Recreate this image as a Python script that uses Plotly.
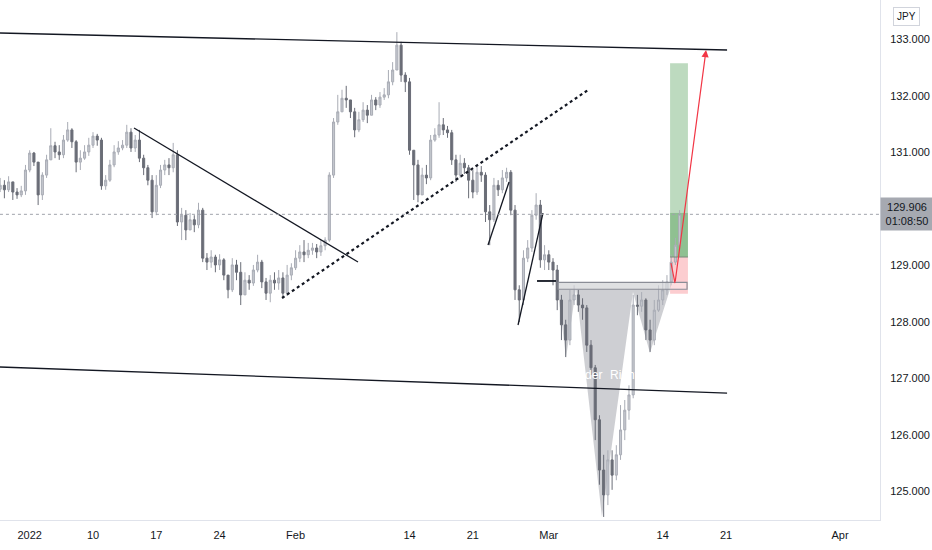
import plotly.graph_objects as go

# ---- data (USD/JPY style, 8h bars, x = trading-day index from 3 Jan 2022) ----
close = [130.42,130.34,130.48,130.30,130.25,130.32,130.69,130.99,130.83,130.25,
         130.60,130.87,131.12,131.01,130.96,131.22,131.40,131.19,130.83,130.90,
         131.01,131.13,131.29,131.22,130.41,130.51,130.78,131.01,131.08,131.13,
         131.36,131.08,131.22,130.90,130.73,130.51,129.95,130.42,130.69,130.78,
         130.73,130.96,129.77,129.89,129.63,129.81,129.72,129.98,129.13,129.06,
         129.15,129.01,129.10,128.83,128.57,129.01,128.88,128.48,128.74,128.69,
         128.92,129.06,128.71,128.51,128.74,128.69,128.78,128.51,128.83,128.96,
         129.13,129.24,129.19,129.27,129.31,129.24,129.35,129.45,130.60,131.54,
         131.72,131.96,131.93,131.72,131.40,131.58,131.75,131.66,131.93,131.84,
         131.98,132.02,132.25,132.46,132.90,132.37,132.25,131.04,130.78,130.25,
         130.60,130.55,131.22,131.31,131.49,131.40,131.35,130.87,130.60,130.81,
         130.73,130.51,130.30,130.65,130.60,129.95,129.81,130.42,130.34,130.55,
         130.65,129.98,128.57,128.39,129.13,129.31,129.89,130.07,129.10,129.19,
         129.06,128.92,128.39,127.95,127.68,128.39,128.48,128.30,128.25,127.59,
         127.19,126.27,125.38,124.94,125.56,125.29,125.65,126.09,126.44,126.71,
         128.30,128.28,128.39,127.86,127.68,128.21,128.39,128.57,128.71,129.06,
         129.36,129.906]
high = [130.55,130.51,130.58,130.44,130.37,130.41,130.78,131.04,131.01,130.83,
        130.65,130.96,131.43,131.19,131.13,131.31,131.54,131.43,131.22,131.04,
        131.13,131.26,131.36,131.33,131.26,130.60,130.87,131.13,131.20,131.22,
        131.49,131.43,131.31,131.40,130.96,130.78,130.60,130.60,130.78,130.87,
        130.90,131.17,131.04,130.02,129.98,129.93,129.89,130.11,130.02,129.22,
        129.27,129.19,129.20,129.13,128.83,129.13,129.10,129.06,128.88,128.83,
        129.01,129.19,129.10,128.78,128.83,128.88,128.92,128.88,129.01,129.04,
        129.27,129.36,129.45,129.40,129.40,129.38,129.45,129.50,130.65,131.61,
        132.02,132.11,132.18,131.93,131.79,131.72,131.89,131.84,132.02,131.98,
        132.07,132.14,132.46,132.60,133.13,132.96,132.42,132.32,131.04,130.87,
        130.73,130.78,131.31,131.43,131.89,131.61,131.47,131.40,130.96,130.96,
        130.90,130.78,130.69,130.78,130.76,130.65,130.07,130.55,130.51,130.69,
        130.73,130.69,130.07,128.65,129.27,129.45,129.98,130.28,130.16,129.36,
        129.27,129.13,129.01,128.48,128.04,128.57,128.65,128.57,128.42,128.30,
        127.68,127.24,126.35,125.65,125.73,125.73,125.82,126.53,126.62,126.88,
        128.48,128.48,128.53,128.42,128.04,128.39,128.65,128.74,128.83,129.19,
        129.49,129.98]
low = [130.30,130.19,130.30,130.16,130.18,130.21,130.25,130.65,130.76,130.07,
       130.16,130.55,130.87,130.90,130.87,130.90,131.19,131.08,130.65,130.69,
       130.87,130.94,131.08,131.12,130.34,130.34,130.48,130.74,130.96,131.04,
       131.08,131.01,131.01,130.83,130.60,130.42,129.84,129.89,130.37,130.60,
       130.60,130.65,129.70,129.45,129.45,129.66,129.59,129.66,129.06,128.92,
       128.96,128.88,128.92,128.74,128.42,128.53,128.74,128.30,128.53,128.57,
       128.64,128.88,128.60,128.39,128.35,128.57,128.57,128.42,128.46,128.74,
       128.92,129.06,129.06,129.13,129.19,129.13,129.17,129.27,129.42,130.55,
       131.49,131.72,131.79,131.61,131.27,131.36,131.54,131.52,131.72,131.75,
       131.79,131.93,131.96,132.19,132.50,132.25,132.07,130.96,130.16,130.12,
       130.37,130.44,130.51,131.19,131.26,131.31,131.26,130.78,130.48,130.55,
       130.62,130.19,130.19,130.25,130.48,129.77,129.36,129.77,130.23,130.28,
       130.48,129.89,128.39,128.00,128.30,129.06,129.24,129.81,128.96,128.92,
       128.92,128.65,128.21,127.68,127.38,127.59,128.30,128.18,128.04,127.47,
       127.06,125.91,125.12,124.55,124.76,125.03,125.20,125.56,125.91,126.27,
       126.65,128.12,128.18,127.68,127.47,127.59,128.18,128.30,128.48,128.65,
       129.01,129.27]
first_open = 130.35
last_price = 129.906
tick_days = [0, 5, 10, 15, 21, 30, 35, 41, 50, 55, 64]
tick_text = ["2022", "10", "17", "24", "Feb", "14", "21", "Mar", "14", "21", "Apr"]
price_ticks = [125, 126, 127, 128, 129, 130, 131, 132, 133]

n = len(close)
t = [-7/3 + i/3 for i in range(n)]
opn = [first_open] + close[:-1]
hi = [max(h, o, c) for h, o, c in zip(high, opn, close)]
lo = [min(l, o, c) for l, o, c in zip(low, opn, close)]

fig = go.Figure()
fig.add_trace(go.Candlestick(
    x=t, open=opn, high=hi, low=lo, close=close,
    increasing=dict(line=dict(color="#a9acb5", width=1), fillcolor="#c4c7ce"),
    decreasing=dict(line=dict(color="#6a6d77", width=1), fillcolor="#6a6d77"),
    whiskerwidth=0, hoverinfo="skip", showlegend=False))

shapes = []
def line(x0, y0, x1, y1, color="#131722", width=1.3, dash="solid", layer="above"):
    shapes.append(dict(type="line", xref="x", yref="y", x0=x0, y0=y0, x1=x1, y1=y1,
                       line=dict(color=color, width=width, dash=dash), layer=layer))

# head & shoulders shaded polygon (below candles)
hs = [(41.65,128.69),(42.36,127.36),(43.15,128.60),(45.20,124.55),(47.65,128.53),
      (48.99,127.45),(50.73,128.69)]
path = "M " + " L ".join(f"{a},{b}" for a, b in hs) + " Z"
shapes.append(dict(type="path", xref="x", yref="y", path=path,
                   fillcolor="rgba(120,123,134,0.36)", line=dict(width=0), layer="below"))
# neckline rectangle
shapes.append(dict(type="rect", xref="x", yref="y", x0=41.73, x1=51.92, y0=128.58, y1=128.70,
                   fillcolor="rgba(255,255,255,0.35)", line=dict(color="#8a8d96", width=1.2),
                   layer="above"))
# long position tool
shapes.append(dict(type="rect", xref="x", yref="y", x0=50.58, x1=51.99, y0=129.15, y1=132.58,
                   fillcolor="rgba(56,142,60,0.33)", line=dict(width=0), layer="below"))
shapes.append(dict(type="rect", xref="x", yref="y", x0=50.58, x1=51.99, y0=129.15, y1=129.93,
                   fillcolor="rgba(56,142,60,0.35)", line=dict(width=0), layer="below"))
shapes.append(dict(type="rect", xref="x", yref="y", x0=50.58, x1=51.99, y0=128.50, y1=129.15,
                   fillcolor="rgba(242,54,69,0.25)", line=dict(width=0), layer="below"))
line(50.58, 129.15, 51.99, 129.15, color="#7a8a7a", width=1)

# channel lines
line(-2.35, 133.115, 55.08, 132.814)
line(-2.35, 127.204, 55.08, 126.743)
# falling trend line
line(8.24, 131.434, 25.93, 129.062)
# dotted rising line
line(19.93, 128.425, 44.10, 132.106, width=2.2, dash="dot")
# small legs
line(36.20, 129.363, 37.86, 130.478)
line(38.57, 127.947, 40.54, 129.929)
line(40.07, 128.726, 41.57, 128.726, width=1.8)
# red projection leg
line(50.65, 129.044, 50.97, 128.690, color="#f23645", width=1.2)
# last price dotted line
line(-2.35, last_price, 67.2, last_price, color="#a0a3ab", width=1, dash="dot")

annotations = [
    dict(x=53.42, y=132.814, ax=50.97, ay=128.690, xref="x", yref="y", axref="x", ayref="y",
         showarrow=True, arrowhead=2, arrowsize=1.2, arrowwidth=1.2, arrowcolor="#f23645", text=""),
    dict(x=42.36, y=127.06, xref="x", yref="y", text="Left Shoulder", showarrow=False,
         font=dict(color="white", size=12, family="Liberation Sans")),
    dict(x=48.99, y=127.06, xref="x", yref="y", text="Right Shoulder", showarrow=False,
         font=dict(color="white", size=12, family="Liberation Sans")),
    dict(x=906 / 880, y=1 - 16 / 520, xref="paper", yref="paper", text="JPY", showarrow=False,
         xanchor="center", yanchor="middle",
         font=dict(color="#131722", size=10, family="Liberation Sans"),
         bordercolor="#d1d4dc", borderwidth=1, borderpad=3, bgcolor="white"),
    dict(x=907 / 880, y=last_price, xref="paper", yref="y", text="129.906<br>01:08:50",
         showarrow=False, xanchor="center", yanchor="middle",
         font=dict(color="#131722", size=11, family="Liberation Sans"),
         bgcolor="#a6a9b1", borderpad=3, width=46, align="center"),
]

fig.update_layout(
    width=932, height=550, margin=dict(l=0, r=52, t=0, b=30),
    paper_bgcolor="white", plot_bgcolor="white",
    shapes=shapes, annotations=annotations, showlegend=False,
    font=dict(family="Liberation Sans", size=11, color="#131722"),
    xaxis=dict(range=[-2.346, 67.16], tickvals=tick_days, ticktext=tick_text,
               showgrid=False, zeroline=False, showline=True, linecolor="#e0e3eb",
               ticks="", ticklabelstandoff=5, rangeslider=dict(visible=False), fixedrange=True,
               tickfont=dict(size=11, color="#131722")),
    yaxis=dict(range=[124.496, 133.699], side="right", tickvals=price_ticks,
               tickformat=".3f", showgrid=False, zeroline=False, showline=True,
               linecolor="#e0e3eb", ticks="", ticklabelstandoff=7, fixedrange=True,
               tickfont=dict(size=11, color="#131722")),
)
fig.write_html("out.html", config={"displayModeBar": False},
               post_script="document.body.style.margin='0px';document.body.style.overflow='hidden';")
